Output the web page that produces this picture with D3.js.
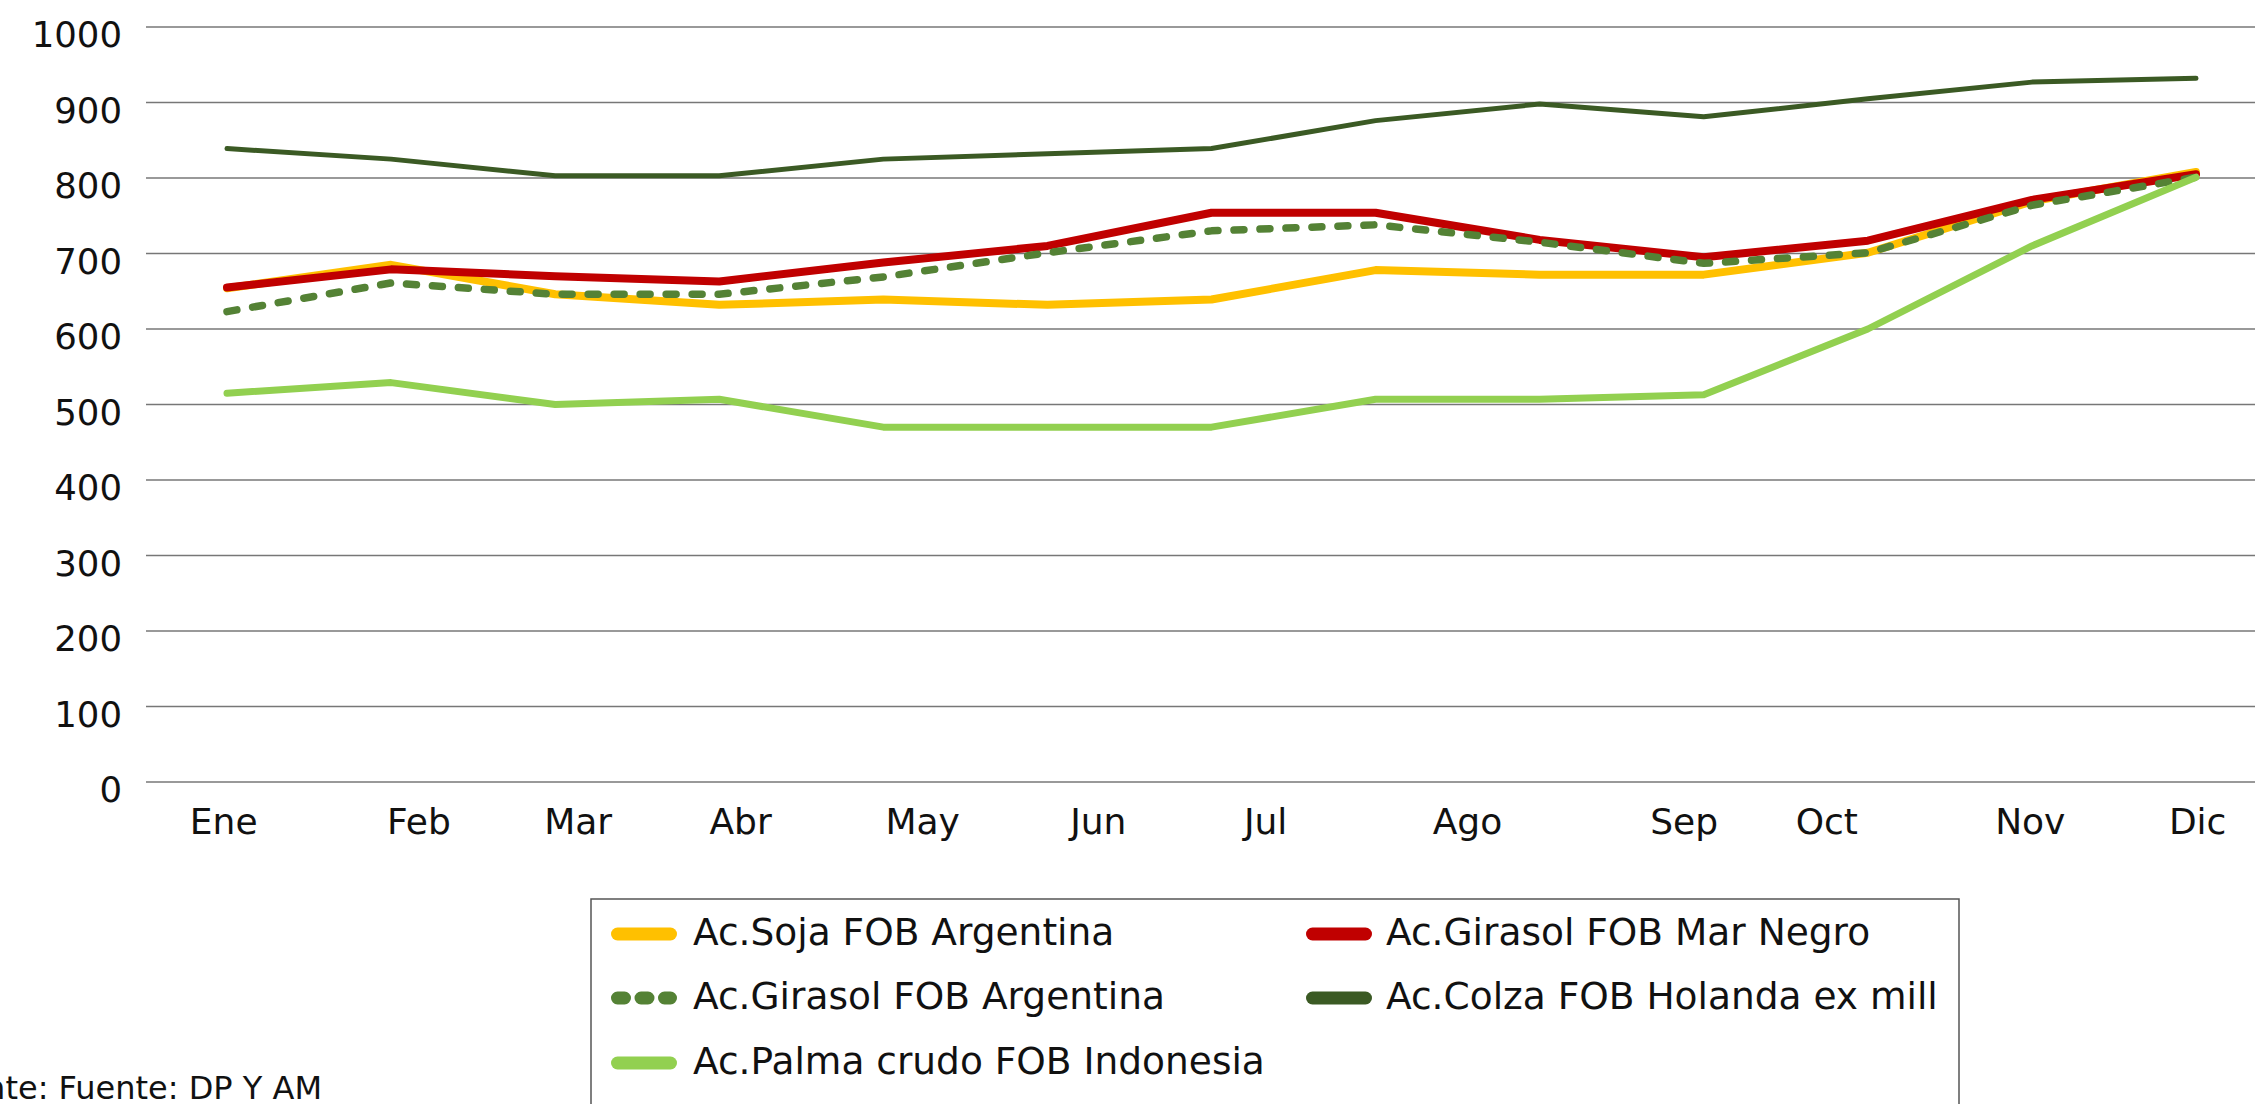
<!DOCTYPE html>
<html>
<head>
<meta charset="utf-8">
<script src="https://cdn.jsdelivr.net/npm/d3@7"></script>
<style>
  html, body { margin: 0; padding: 0; background: #fff; overflow: hidden; }
  svg { display: block; }
  text { font-family: "DejaVu Sans", Inter, sans-serif; fill: #111; }
</style>
</head>
<body>
<svg id="chart" width="2255" height="1104"></svg>
<script>
// ---- data (13 observations across the year) ----
const pointIndex = [0,1,2,3,4,5,6,7,8,9,10,11,12];
const sojaArg     = [654, 685, 646, 632, 639, 632, 639, 678, 672, 672, 701, 769, 808];
const girasolMN   = [655, 679, 670, 663, 688, 710, 754, 754, 718, 695, 717, 771, 805];
const girasolArg  = [623, 661, 646, 646, 669, 701, 730, 738, 715, 687, 701, 764, 801];
const colzaHol    = [839, 825, 803, 803, 825, 832, 839, 876, 898, 881, 905, 927, 932];
const palmaInd    = [515, 529, 500, 507, 470, 470, 470, 507, 507, 513, 600, 710, 801];

const seriesNames = ["Ac.Soja FOB Argentina", "Ac.Girasol FOB Mar Negro", "Ac.Girasol FOB Argentina",
                     "Ac.Colza FOB Holanda ex mill", "Ac.Palma crudo FOB Indonesia"];

// month labels and where they sit along the point index axis
const monthLabels    = ["Ene","Feb","Mar","Abr","May","Jun","Jul","Ago","Sep","Oct","Nov","Dic"];
const monthLabelPos  = [-0.02, 1.17, 2.14, 3.13, 4.24, 5.31, 6.33, 7.56, 8.88, 9.75, 10.99, 12.01];
const yTicks = [0,100,200,300,400,500,600,700,800,900,1000];
const sourceNote = "Fuente: Fuente: DP Y AM";

// ---- styles ----
const styles = [
  {color: "#FFC000", width: 8,   dash: null},
  {color: "#C00000", width: 8,   dash: null},
  {color: "#548235", width: 7.5, dash: "10,16"},
  {color: "#3B5A24", width: 5,   dash: null},
  {color: "#92D050", width: 7,   dash: null}
];
const seriesData = [sojaArg, girasolMN, girasolArg, colzaHol, palmaInd];

const svg = d3.select("#chart");
const x = d3.scaleLinear().domain([0, 12]).range([227, 2196]);
const y = d3.scaleLinear().domain([0, 1000]).range([782, 27]);

// gridlines
svg.append("g")
  .selectAll("line").data(yTicks).join("line")
  .attr("x1", 146).attr("x2", 2255)
  .attr("y1", d => y(d)).attr("y2", d => y(d))
  .attr("stroke", "#777").attr("stroke-width", 1.6);

// y labels
svg.append("g")
  .selectAll("text").data(yTicks).join("text")
  .attr("x", 122).attr("y", d => y(d) + 20)
  .attr("text-anchor", "end")
  .style("font-size", "35.5px")
  .text(d => d);

// x labels
svg.append("g")
  .selectAll("text").data(monthLabels).join("text")
  .attr("x", (d, i) => x(monthLabelPos[i]))
  .attr("y", 834)
  .attr("text-anchor", "middle")
  .style("font-size", "36px")
  .text(d => d);

// lines
const line = d3.line().x((d, i) => x(pointIndex[i])).y(d => y(d));
svg.append("g")
  .selectAll("path").data(seriesData).join("path")
  .attr("d", d => line(d))
  .attr("fill", "none")
  .attr("stroke", (d, i) => styles[i].color)
  .attr("stroke-width", (d, i) => styles[i].width)
  .attr("stroke-linecap", "round")
  .attr("stroke-linejoin", "round")
  .attr("stroke-dasharray", (d, i) => styles[i].dash);

// legend
const lg = svg.append("g");
lg.append("rect").attr("x", 591).attr("y", 899).attr("width", 1368).attr("height", 230)
  .attr("fill", "#fff").attr("stroke", "#555").attr("stroke-width", 1.5);
const legPos = [
  {sx: 611, tx: 693, ry: 934},
  {sx: 1306, tx: 1386, ry: 934},
  {sx: 611, tx: 693, ry: 998},
  {sx: 1306, tx: 1386, ry: 998},
  {sx: 611, tx: 693, ry: 1063}
];
seriesNames.forEach((name, i) => {
  const p = legPos[i];
  lg.append("line")
    .attr("x1", p.sx + 6.5).attr("x2", p.sx + 66 - 6.5)
    .attr("y1", p.ry).attr("y2", p.ry)
    .attr("stroke", styles[i].color).attr("stroke-width", 13)
    .attr("stroke-linecap", "round")
    .attr("stroke-dasharray", styles[i].dash ? "7,16.5" : null);
  lg.append("text").attr("x", p.tx).attr("y", p.ry + 11)
    .style("font-size", "37.5px").text(name);
});

// source note (clipped at left edge, as in the original)
svg.append("text").attr("x", 322).attr("y", 1099)
  .attr("text-anchor", "end").style("font-size", "32px").text(sourceNote);
</script>
</body>
</html>
